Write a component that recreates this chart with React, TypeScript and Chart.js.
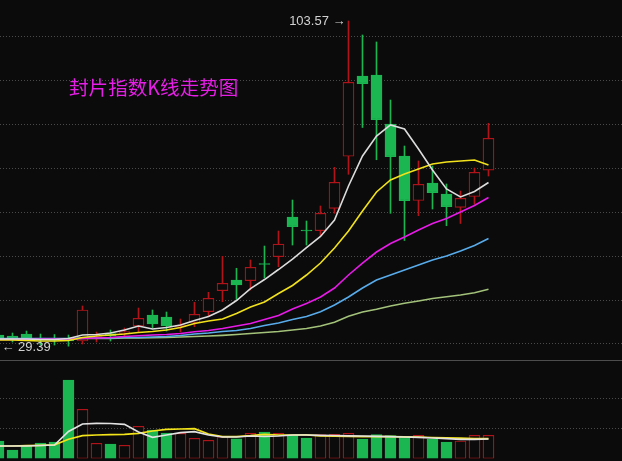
import React, { useEffect, useRef } from 'react';
import { Chart, registerables } from 'chart.js';

Chart.register(...registerables);

// ---- data ----
const titleText = '封片指数K线走势图';

const opens = [32.04, 31.81, 32.27, 31.24, 30.97, 31.36, 30.67, 31.47, 32.38, 32.38, 34.09, 36.6, 36.14, 33.86, 34.89, 37.35, 42.13, 44.57, 44.41, 48.33, 49.88, 58.92, 55.89, 55.8, 60.9, 72.75, 91.04, 91.27, 80.11, 72.82, 62.68, 66.67, 64.16, 61.13, 63.59, 69.58];
const highs = [32.27, 32.5, 32.95, 32.27, 32.15, 32.04, 38.65, 32.72, 33.18, 33.64, 38.19, 37.74, 37.28, 35.69, 39.49, 41.77, 49.97, 47.24, 49.13, 52.31, 55.73, 62.79, 58.01, 61.43, 70.24, 103.57, 100.38, 98.79, 85.57, 75.09, 71.68, 70.54, 66.44, 64.84, 70.08, 80.27];
const lows = [29.39, 30.45, 31.13, 29.76, 29.76, 29.5, 29.99, 30.45, 30.67, 31.59, 32.79, 33.64, 32.95, 32.72, 33.93, 36.26, 39.63, 40.17, 42.29, 45.03, 47.6, 52.54, 52.54, 54.71, 59.76, 68.65, 79.31, 71.97, 59.76, 53.57, 59.22, 60.74, 56.94, 57.44, 61.81, 68.26];
const closes = [31.36, 31.24, 31.24, 31.13, 30.83, 30.67, 37.74, 31.7, 31.81, 32.84, 35.85, 34.55, 34.09, 34.32, 36.76, 40.4, 43.82, 43.43, 47.46, 48.1, 52.77, 56.71, 55.73, 59.76, 66.83, 89.61, 89.29, 81.09, 72.66, 62.63, 66.37, 64.46, 61.27, 63.18, 69.1, 76.85];

const ma5 = [31.13, 31.13, 31.13, 31.02, 31.02, 31.24, 32.04, 32.15, 32.5, 33.18, 34.09, 33.41, 33.75, 34.32, 35.34, 36.26, 37.74, 39.9, 42.63, 44.68, 46.96, 49.35, 51.97, 54.48, 58.24, 65.98, 72.82, 77.37, 79.88, 78.97, 74.41, 69.63, 65.3, 63.48, 64.73, 66.78];
const ma10 = [30.9, 30.9, 30.79, 30.67, 30.67, 30.79, 31.47, 31.81, 32.04, 32.27, 32.61, 32.84, 33.18, 33.75, 34.66, 35.23, 35.69, 36.94, 38.42, 39.56, 41.49, 43.32, 45.71, 48.44, 51.86, 55.73, 60.29, 64.62, 67.35, 68.72, 69.86, 70.99, 71.45, 71.68, 71.91, 70.77];
const ma20 = [31.02, 31.02, 31.02, 31.13, 31.13, 31.13, 31.24, 31.36, 31.47, 31.7, 31.88, 32.04, 32.15, 32.38, 32.79, 33.07, 33.52, 34.09, 34.66, 35.57, 36.48, 37.96, 39.22, 40.7, 42.75, 45.71, 48.44, 50.95, 52.88, 54.37, 55.96, 57.44, 58.58, 60.06, 61.54, 63.36];
const ma30 = [31.24, 31.24, 31.24, 31.24, 31.24, 31.24, 31.36, 31.36, 31.36, 31.47, 31.47, 31.59, 31.7, 31.93, 32.27, 32.5, 32.84, 33.07, 33.52, 34.21, 34.77, 35.57, 36.26, 37.35, 38.87, 40.7, 42.75, 44.57, 45.71, 46.85, 47.99, 49.13, 50.04, 51.18, 52.43, 54.02];
const ma60 = [31.13, 31.13, 31.13, 31.13, 31.13, 31.13, 31.24, 31.24, 31.24, 31.36, 31.36, 31.43, 31.47, 31.59, 31.7, 31.81, 31.97, 32.15, 32.38, 32.61, 32.84, 33.18, 33.52, 34.09, 34.93, 36.32, 37.28, 37.9, 38.65, 39.26, 39.79, 40.36, 40.77, 41.15, 41.68, 42.45];

const volumes = [17500, 8500, 12500, 15500, 16500, 78500, 49200, 15200, 14500, 13200, 32200, 28500, 25500, 25200, 20200, 18200, 21800, 19700, 25200, 26500, 25200, 23500, 20500, 23800, 24200, 25200, 19500, 23800, 22800, 21200, 23200, 19500, 16500, 17500, 23200, 23200];
const volMa5 = [12500, 12500, 12500, 13000, 13500, 27000, 34500, 35200, 35000, 34200, 26500, 21200, 23500, 25800, 26800, 23500, 21500, 21500, 22500, 22000, 22500, 23500, 23500, 23200, 23000, 22700, 22500, 22200, 21800, 21500, 21200, 20500, 19800, 19200, 19200, 19500];
const volMa10 = [12500, 12500, 12800, 13200, 13700, 19200, 22800, 23500, 23800, 24200, 25200, 27500, 29200, 29500, 29800, 24500, 21800, 21800, 22800, 24200, 23500, 23500, 23700, 22700, 22300, 22100, 21800, 21800, 21800, 21700, 21500, 21000, 20700, 20300, 19800, 19800];

const priceGrid = [30, 40, 50, 60, 70, 80, 90, 100];
const volGrid = [30000, 60000];

// ---- view / style ----
const BG = '#0b0b0b';
const RED = '#b0141a';
const GREEN = '#1bb651';
const GRID = '#4a4a4a';
const X_MIN = 0.107;
const X_MAX = 44.536;

const idx = opens.map((_, i) => i);
const isUp = (i: number) => closes[i] >= opens[i];
const candleColors = idx.map((i) => (isUp(i) ? RED : GREEN));
const bodyFills = idx.map((i) => (isUp(i) ? BG : GREEN));

const lineDs = (label: string, arr: number[], color: string, width = 1.6) => ({
  type: 'line' as const,
  label,
  data: arr.map((v, i) => ({ x: i, y: v })),
  borderColor: color,
  borderWidth: width,
  pointRadius: 0,
  tension: 0,
  order: 0,
});

const extremeLabels = {
  id: 'extremeLabels',
  afterDatasetsDraw(chart: any) {
    const { ctx, scales } = chart;
    const x = scales.x;
    const y = scales.y;
    let hi = 0;
    let lo = 0;
    highs.forEach((v, i) => { if (v > highs[hi]) hi = i; });
    lows.forEach((v, i) => { if (v < lows[lo]) lo = i; });
    ctx.save();
    ctx.font = "13px 'Liberation Sans', Arial, sans-serif";
    ctx.fillStyle = '#d2d2d2';
    ctx.textBaseline = 'middle';
    ctx.textAlign = 'right';
    ctx.fillText(highs[hi].toFixed(2) + ' \u2192', x.getPixelForValue(hi) - 3, y.getPixelForValue(highs[hi]));
    ctx.textAlign = 'left';
    ctx.fillText('\u2190 ' + lows[lo].toFixed(2), x.getPixelForValue(lo) + 3, y.getPixelForValue(lows[lo]) + 1);
    ctx.restore();
  },
};

const hiddenX = { type: 'linear' as const, min: X_MIN, max: X_MAX, display: false, offset: false };

export default function App() {
  const mainRef = useRef<HTMLCanvasElement>(null);
  const volRef = useRef<HTMLCanvasElement>(null);

  useEffect(() => {
    const main = new Chart(mainRef.current as HTMLCanvasElement, {
      type: 'bar',
      data: {
        datasets: [
          lineDs('MA5', ma5, '#dcdcdc'),
          lineDs('MA10', ma10, '#f2e21c'),
          lineDs('MA20', ma20, '#e81ae8'),
          lineDs('MA30', ma30, '#58acec'),
          lineDs('MA60', ma60, '#a3c27a'),
          {
            type: 'bar',
            label: 'body',
            data: idx.map((i) => ({ x: i, y: [opens[i], closes[i]] })),
            backgroundColor: bodyFills,
            borderColor: candleColors,
            borderWidth: 1.2,
            borderSkipped: false,
            barThickness: 11,
            minBarLength: 1,
            grouped: false,
            order: 1,
          } as any,
          {
            type: 'bar',
            label: 'wick',
            data: idx.map((i) => ({ x: i, y: [lows[i], highs[i]] })),
            backgroundColor: candleColors,
            borderWidth: 0,
            barThickness: 1,
            grouped: false,
            order: 2,
          } as any,
        ],
      },
      options: {
        animation: false,
        responsive: false,
        events: [],
        layout: { padding: 0 },
        plugins: { legend: { display: false }, tooltip: { enabled: false }, title: { display: false } },
        scales: {
          x: hiddenX,
          y: {
            min: 26.35,
            max: 108.35,
            ticks: { display: false },
            border: { display: false, dash: [1, 2] },
            grid: { color: GRID, drawTicks: false },
            afterBuildTicks: (ax: any) => { ax.ticks = priceGrid.map((v) => ({ value: v })); },
          },
        },
      } as any,
      plugins: [extremeLabels],
    });

    const vol = new Chart(volRef.current as HTMLCanvasElement, {
      type: 'bar',
      data: {
        datasets: [
          lineDs('VMA5', volMa5, '#e2e2e2', 1.7),
          lineDs('VMA10', volMa10, '#f4e41a', 1.7),
          {
            type: 'bar',
            label: 'volume',
            data: idx.map((i) => ({ x: i, y: volumes[i] })),
            backgroundColor: bodyFills,
            borderColor: candleColors,
            borderWidth: 1.2,
            borderSkipped: false,
            barThickness: 11,
            grouped: false,
            order: 1,
          } as any,
        ],
      },
      options: {
        animation: false,
        responsive: false,
        events: [],
        layout: { padding: { top: 0, bottom: 2.5, left: 0, right: 0 } },
        plugins: { legend: { display: false }, tooltip: { enabled: false } },
        scales: {
          x: hiddenX,
          y: {
            min: 0,
            max: 97500,
            ticks: { display: false },
            border: { display: false, dash: [1, 2] },
            grid: { color: GRID, drawTicks: false },
            afterBuildTicks: (ax: any) => { ax.ticks = volGrid.map((v) => ({ value: v })); },
          },
        },
      } as any,
    });

    return () => {
      main.destroy();
      vol.destroy();
    };
  }, []);

  return (
    <div style={{ position: 'absolute', left: 0, top: 0, width: 622, height: 461, background: BG, overflow: 'hidden' }}>
      <canvas ref={mainRef} width={622} height={360} style={{ display: 'block', width: 622, height: 360 }} />
      <div style={{ height: 1, background: '#4d4d4d' }} />
      <canvas ref={volRef} width={622} height={100} style={{ display: 'block', width: 622, height: 100 }} />
      <div
        style={{
          position: 'absolute',
          left: 69,
          top: 77,
          fontSize: 19.6,
          lineHeight: '20px',
          color: '#e61ee6',
          fontFamily: "'Noto Sans CJK SC', serif",
          whiteSpace: 'nowrap',
        }}
      >
        {titleText}
      </div>
    </div>
  );
}
